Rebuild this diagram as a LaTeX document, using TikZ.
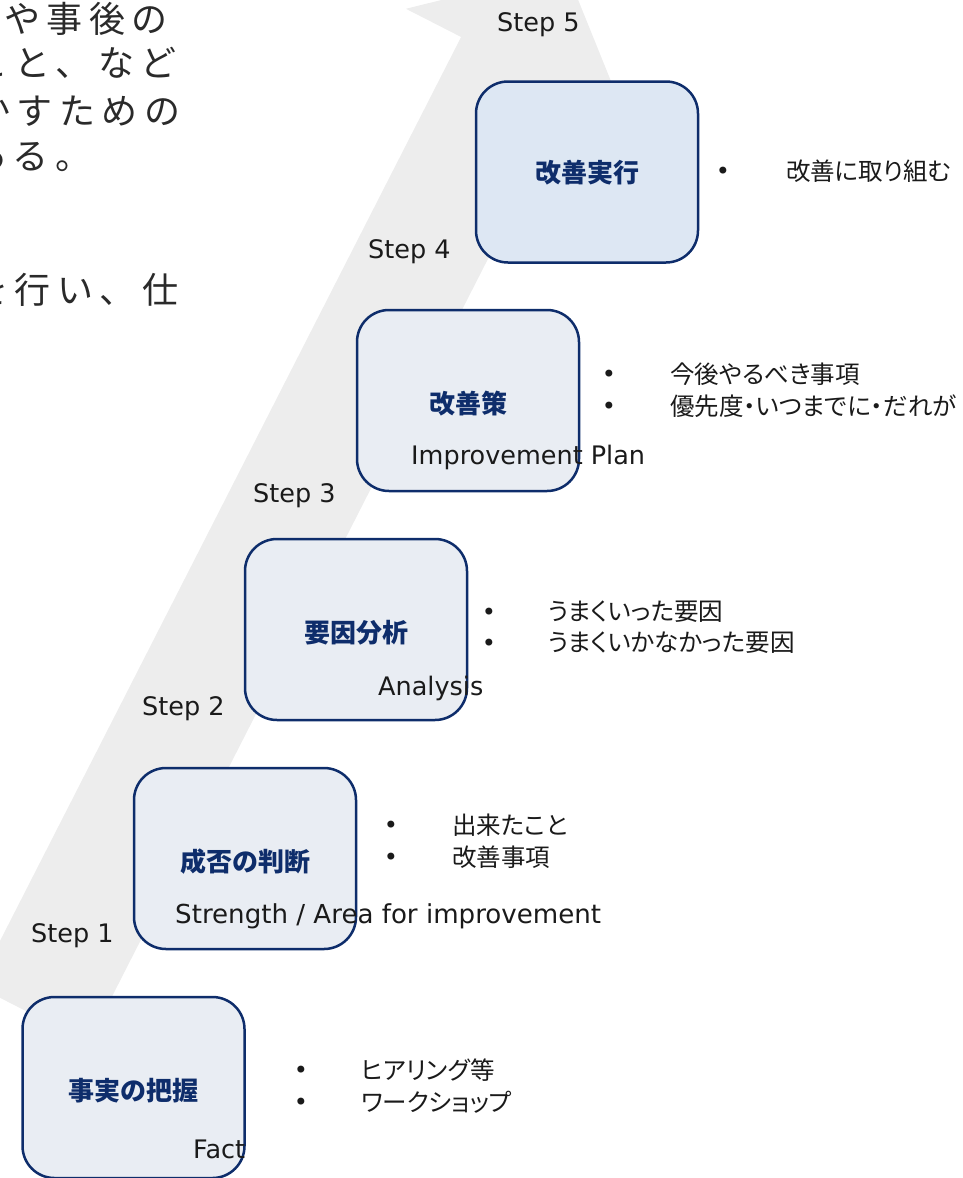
\documentclass[tikz,border=0pt]{standalone}
\usepackage{fontspec}
\setmainfont{DejaVu Sans}
\newfontfamily\jp{Noto Sans CJK JP}
\newfontfamily\jpp{Noto Sans CJK JP}[RawFeature=+palt]
\newfontfamily\jpbig{Noto Sans CJK JP}[LetterSpace=18]
\newfontfamily\lat{DejaVu Sans}
\definecolor{bandgray}{HTML}{EDEDED}
\definecolor{navy}{HTML}{0E2D6B}
\definecolor{boxfill}{HTML}{E9EDF3}
\definecolor{boxfillb}{HTML}{DDE7F3}
\definecolor{txt}{HTML}{1A1A1A}
\definecolor{bigtxt}{HTML}{2A2A2A}
\begin{document}
\begin{tikzpicture}[x=1pt,y=-1pt,
  band/.style={fill=bandgray},
  stepbox/.style={draw=navy, line width=2.5pt, rounded corners=32pt, fill=boxfill,
    minimum width=222pt, minimum height=181pt, inner sep=0pt},
  title/.style={font=\jp\bfseries\fontsize{26}{30}\selectfont, text=navy, inner sep=0pt},
  sub/.style={font=\lat\fontsize{25.5}{30}\selectfont, text=txt, anchor=base west, inner sep=0pt},
  bul/.style={font=\lat\fontsize{24}{28}\selectfont, text=txt, anchor=base, inner sep=0pt},
  item/.style={font=\jpp\fontsize{24.5}{30}\selectfont, text=txt, anchor=west, inner sep=0pt},
  big/.style={font=\jpbig\fontsize{36}{40}\selectfont, text=bigtxt, anchor=west, inner sep=0pt}]
\useasboundingbox (0,0) rectangle (963,1178);
\clip (0,0) rectangle (963,1178);
% band arrow
\fill[band] (405.9,8.8) -- (565.7,-30.9) -- (627.4,121.8) -- (572.2,93.65)
  -- (88.3,1043) -- (-23,986) -- (461.1,37) -- cycle;
% top-left body text
\node[big] (l1) at (4,19) {や事後の};
\node[big] (l2) at (-28,63) {こと、など};
\node[big] (l3) at (-26,111) {かすための};
\node[big] (l4) at (-30,156) {ある。};
\node[big] (l5) at (-28,290) {を行い、仕};
% boxes
\node[stepbox] (b1) at (133.5,1087.5) {};
\node[stepbox] (b2) at (245,858.5) {};
\node[stepbox] (b3) at (356,629.5) {};
\node[stepbox] (b4) at (468,400.5) {};
\node[stepbox, fill=boxfillb] (b5) at (587,172) {};
% titles
\node[title] (t1) at ([yshift=-3pt]b1.center) {事実の把握};
\node[title] (t2) at ([yshift=-3pt]b2.center) {成否の判断};
\node[title] (t3) at ([yshift=-3pt]b3.center) {要因分析};
\node[title] (t4) at ([yshift=-3pt]b4.center) {改善策};
\node[title] (t5) at ([yshift=-1pt]b5.center) {改善実行};
% subtitles
\node[sub] (s1) at (193,1158) {Fact};
\node[sub, font=\lat\fontsize{26.1}{30}\selectfont] (s2) at (175,923) {Strength / Area for improvement};
\node[sub] (s3) at (378,695) {Analysis};
\node[sub] (s4) at (411,464) {Improvement Plan};
% step labels
\node[sub] (st1) at (31,942) {Step 1};
\node[sub] (st2) at (142,715) {Step 2};
\node[sub] (st3) at (253,502) {Step 3};
\node[sub] (st4) at (368,258) {Step 4};
\node[sub] (st5) at (497,31.7) {Step 5};
% bullets
\node[bul] (p1a) at (301,1078) {•};
\node[bul] (p1b) at (301,1110) {•};
\node[item] (i1a) at (361,1070) {ヒアリング等};
\node[item] (i1b) at (361,1102) {ワークショップ};
\node[bul] (p2a) at (391,833) {•};
\node[bul] (p2b) at (391,865) {•};
\node[item] (i2a) at (452,825) {出来たこと};
\node[item] (i2b) at (452,857) {改善事項};
\node[bul] (p3a) at (489,620) {•};
\node[bul] (p3b) at (489,651) {•};
\node[item] (i3a) at (548,612) {うまくいった要因};
\node[item] (i3b) at (548,643) {うまくいかなかった要因};
\node[bul] (p4a) at (609,382) {•};
\node[bul] (p4b) at (609,414) {•};
\node[item] (i4a) at (670,374) {今後やるべき事項};
\node[item] (i4b) at (670,406) {優先度・いつまでに・だれが};
\node[bul] (p5a) at (723,179) {•};
\node[item] (i5a) at (786,171) {改善に取り組む};
\end{tikzpicture}
\end{document}
